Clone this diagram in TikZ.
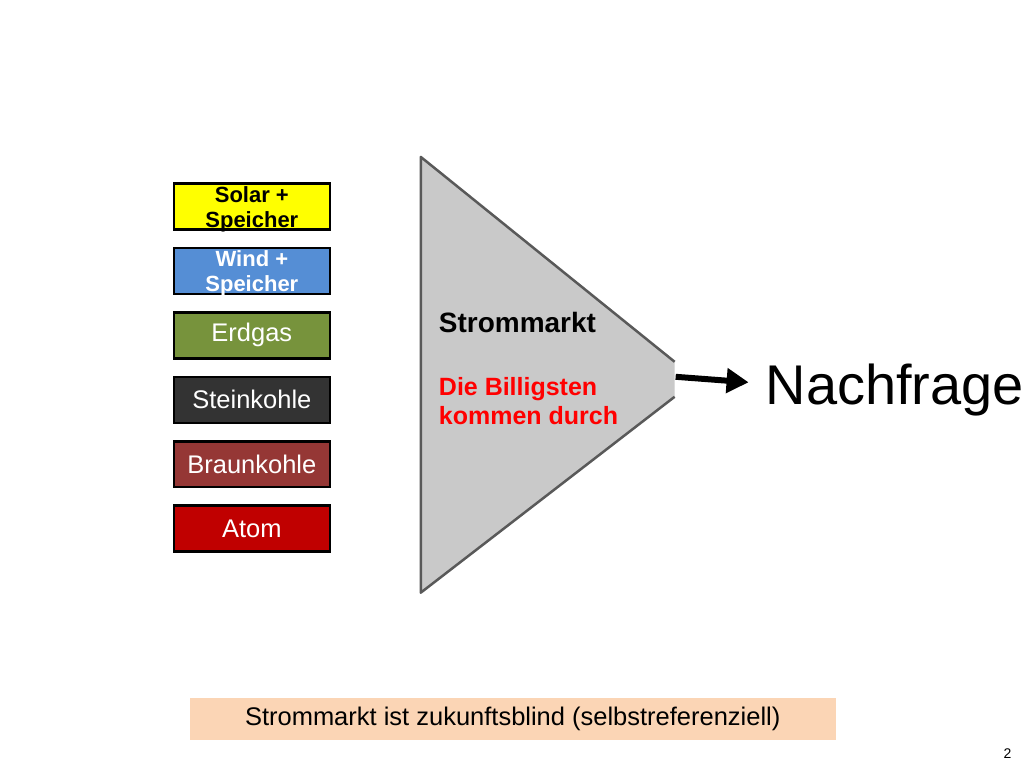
\documentclass[tikz,border=0pt]{standalone}
\usepackage{fontspec}
\setmainfont{Liberation Sans}
\usetikzlibrary{arrows.meta,positioning}
\definecolor{solaryellow}{HTML}{FFFF00}
\definecolor{windblue}{HTML}{558ED5}
\definecolor{gasgreen}{HTML}{77933C}
\definecolor{coalgray}{HTML}{333333}
\definecolor{lignitered}{HTML}{953735}
\definecolor{atomred}{HTML}{C00000}
\definecolor{marketgray}{HTML}{C9C9C9}
\definecolor{marketedge}{HTML}{595959}
\definecolor{bannerpeach}{HTML}{FBD5B5}

\begin{document}
\begin{tikzpicture}[x=1pt, y=-1pt,
	fuel/.style={draw=black, line width=2.5pt, rectangle, minimum width=156pt, minimum height=46pt, inner sep=0pt, align=center, text=white, font=\fontsize{25.5}{28}\selectfont},
	fuelbold/.style={fuel, font=\bfseries\fontsize{22}{25}\selectfont, text height=43pt, text depth=1pt}]

	% page
	\fill[white] (0,0) rectangle (1024,768);

	% sources
	\node[fuelbold, fill=solaryellow, text=black] at (252,206.5) (solar) {Solar +\\Speicher};
	\node[fuelbold, fill=windblue, below=16pt of solar] (wind) {Wind +\\Speicher};
	\node[fuel, fill=gasgreen, below=16pt of wind] (gas) {Erdgas};
	\node[fuel, fill=coalgray, below=16pt of gas] (coal) {Steinkohle};
	\node[fuel, fill=lignitered, below=16pt of coal] (lignite) {Braunkohle};
	\node[fuel, fill=atomred, below=16pt of lignite] (atom) {Atom};

	% market funnel
	\coordinate (ftop) at (421,157);
	\coordinate (fbot) at (421,593);
	\coordinate (cuttop) at (675,362);
	\coordinate (cutbot) at (675,397);
	\coordinate (tipcut) at (676,377);
	\fill[marketgray] (ftop) -- (cuttop) -- (cutbot) -- (fbot) -- cycle;
	\draw[marketedge, line width=2.5pt, line join=round] (cuttop) -- (ftop) -- (fbot) -- (cutbot);

	\node[anchor=base west, inner sep=0pt, font=\bfseries\fontsize{28}{32}\selectfont] at (439,333) (market) {Strommarkt};
	\node[anchor=base west, inner sep=0pt, align=left, text=red, font=\bfseries\fontsize{25}{29}\selectfont] at ([yshift=-92pt]market.base west) (cheap) {Die Billigsten\\kommen durch};

	% demand
	\node[anchor=base west, inner sep=0pt, font=\fontsize{56}{60}\selectfont] at (766,405) (demand) {Nachfrage};
	\draw[line width=6pt, -{Triangle[length=22pt, width=24pt]}] (tipcut) -- ([shift={(-17pt,8pt)}]demand.west);

	% banner
	\node[fill=bannerpeach, minimum width=646pt, minimum height=42pt, inner sep=0pt, font=\fontsize{25.5}{28}\selectfont] at (513,719) (blind) {Strommarkt ist zukunftsblind (selbstreferenziell)};

	\node[inner sep=0pt, font=\fontsize{14}{16}\selectfont] at (1008,754) (page) {2};

\end{tikzpicture}
\end{document}
